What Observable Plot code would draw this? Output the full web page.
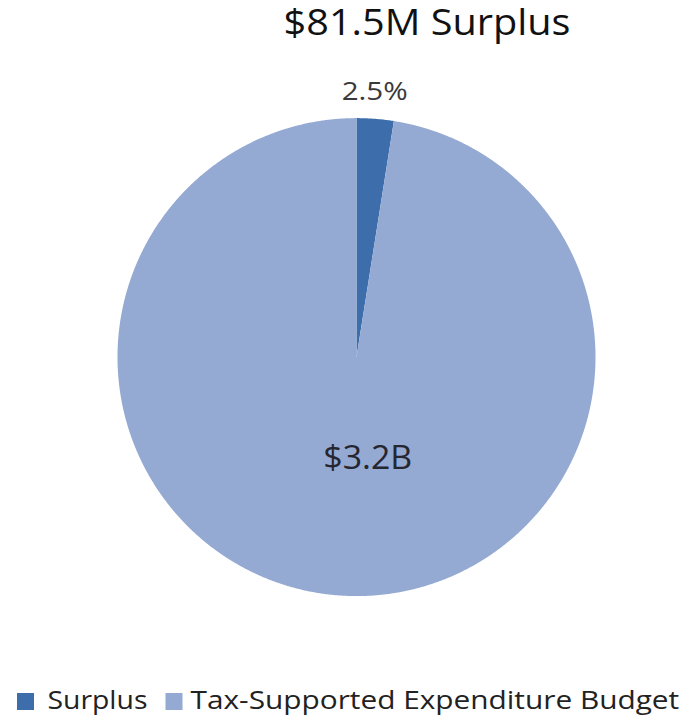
<!DOCTYPE html>
<html><head><meta charset="utf-8">
<script src="https://cdn.jsdelivr.net/npm/d3@7"></script>
<script src="https://cdn.jsdelivr.net/npm/@observablehq/plot@0.6"></script>
<style>body{margin:0;background:#fff;font-family:"Open Sans",sans-serif}</style>
</head><body><div id="chart"></div>
<script>
const categories = ["Surplus", "Tax-Supported Expenditure Budget"];
const shares = [2.5, 97.5];
const sliceLabels = ["2.5%", "$3.2B"];
const title = "$81.5M Surplus";
const colors = ["#3d6eab", "#94aad3"];

// layout (label radius as fraction of pie radius, text widths)
const labelRadius = [1.077, 0.4676];
const labelDx = [-2, 20];
const labelSize = [25, 32];
const textWidths = {"$81.5M Surplus": 287, "2.5%": 66, "$3.2B": 89, "Surplus": 100, "Tax-Supported Expenditure Budget": 489};

const slices = categories.map((c, i) => ({category: c, share: shares[i], label: sliceLabels[i], r: labelRadius[i], dx: labelDx[i], size: labelSize[i]}));
const arcs = d3.pie().sort(null).value(d => d.share)(slices);

const outline = [];
arcs.forEach(a => {
  const n = Math.max(4, Math.ceil((a.endAngle - a.startAngle) / 0.005));
  outline.push({category: a.data.category, x: 0, y: 0});
  for (let k = 0; k <= n; k++) {
    const t = a.startAngle + (a.endAngle - a.startAngle) * k / n;
    outline.push({category: a.data.category, x: Math.sin(t), y: Math.cos(t)});
  }
});
const labels = arcs.map(a => {
  const m = (a.startAngle + a.endAngle) / 2;
  return {text: a.data.label, x: Math.sin(m) * a.data.r, y: Math.cos(m) * a.data.r, dx: a.data.dx, size: a.data.size};
});

const chart = Plot.plot({
  width: 692, height: 716,
  margin: 0,
  style: {fontFamily: "'Open Sans', sans-serif", background: "#fff", overflow: "visible"},
  x: {domain: [-1, 1], range: [117, 595], axis: null},
  y: {domain: [-1, 1], range: [595.6, 117.6], axis: null},
  color: {domain: categories, range: colors},
  marks: [
    Plot.line(outline, {x: "x", y: "y", z: "category", fill: "category", stroke: "none", curve: "linear-closed"}),
    Plot.text([labels[0]], {x: "x", y: "y", text: "text", dx: labels[0].dx, fontSize: labels[0].size, fill: "#3a3a3a", lineAnchor: "bottom"}),
    Plot.text([labels[1]], {x: "x", y: "y", text: "text", dx: labels[1].dx, fontSize: labels[1].size, fill: "#262630", lineAnchor: "bottom"}),
    Plot.text([title], {frameAnchor: "top", dx: 80.5, dy: 34, fontSize: 36, fill: "#111", lineAnchor: "bottom"}),
    Plot.dot([categories[0]], {frameAnchor: "bottom-left", dx: 25, dy: -15, symbol: "square", r: 9.6, fill: colors[0], stroke: null}),
    Plot.text([categories[0]], {frameAnchor: "bottom-left", dx: 47, dy: -8, fontSize: 25, fill: "#222", textAnchor: "start", lineAnchor: "bottom"}),
    Plot.dot([categories[1]], {frameAnchor: "bottom-left", dx: 173.5, dy: -15, symbol: "square", r: 9.6, fill: colors[1], stroke: null}),
    Plot.text([categories[1]], {frameAnchor: "bottom-left", dx: 190, dy: -8, fontSize: 25, fill: "#222", textAnchor: "start", lineAnchor: "bottom"})
  ]
});
document.getElementById("chart").append(chart);
chart.querySelectorAll("text").forEach(t => {
  const w = textWidths[t.textContent];
  if (!w) return;
  const w0 = t.getComputedTextLength();
  if (!w0) return;
  const s = w / w0;
  const tr = t.getAttribute("transform") || "";
  t.setAttribute("transform", `${tr} scale(${s},1)`.trim());
});
</script></body></html>
